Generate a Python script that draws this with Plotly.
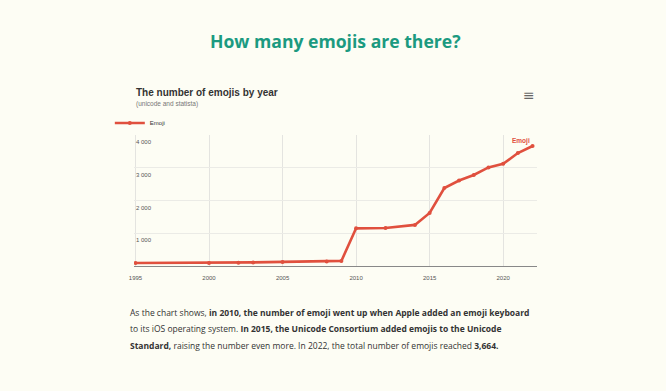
import plotly.graph_objects as go

years = [1995, 2000, 2002, 2003, 2005, 2008, 2009, 2010, 2012, 2014, 2015, 2016, 2017, 2018, 2019, 2020, 2021, 2022]
emojis = [90, 90, 100, 110, 125, 135, 155, 1150, 1160, 1255, 1620, 2380, 2610, 2780, 3010, 3120, 3450, 3664]
x_ticks = [1995, 2000, 2005, 2010, 2015, 2020]
y_ticks = [1000, 2000, 3000, 4000]
y_tick_text = ["1 000", "2 000", "3 000", "4 000"]

RED = "#e0503e"
BG = "#fdfdf4"
L, R, T, B = 134, 129, 135, 125
W, H = 666, 391
fig = go.Figure()
fig.add_trace(go.Scatter(
    x=years, y=emojis, mode="lines+markers", name="Emoji",
    line=dict(color=RED, width=2.6), marker=dict(color=RED, size=4),
))


def px(x):
    return (x - L) / (W - L - R)


def py(y):
    return (H - B - y) / (H - T - B)


fig.update_layout(
    width=W, height=H,
    paper_bgcolor=BG, plot_bgcolor=BG,
    margin=dict(l=L, r=R, t=T, b=B),
    font=dict(family="Liberation Sans, Arial, sans-serif", color="#444"),
    showlegend=True,
    legend=dict(x=-0.06, y=py(123), xanchor="left", yanchor="middle", yref="paper",
                orientation="h", font=dict(size=6, color="#333"), itemwidth=30,
                bgcolor="rgba(0,0,0,0)", borderwidth=0, tracegroupgap=0),
    xaxis=dict(range=[1994.9, 2022.3], tickvals=x_ticks, showgrid=True, gridcolor="#e4e4e0",
               gridwidth=1, zeroline=False, showline=True, linecolor="#888", linewidth=1,
               tickfont=dict(size=6, color="#555"), ticks="", fixedrange=True,
               ticklabeloverflow="allow", ticklabelstandoff=6),
    yaxis=dict(range=[0, 4000], tickvals=y_ticks, showgrid=True,
               gridcolor="#ebebe6", zeroline=False, showline=False,
               showticklabels=False, ticks="", fixedrange=True),
)

annotations = [
    dict(text="<b>How many emojis are there?</b>", x=0.5, y=py(41),
         font=dict(family="Open Sans, sans-serif", size=17.6, color="#1b9a80")),
    dict(text="<b>The number of emojis by year</b>", x=px(134), y=py(92), xanchor="left",
         font=dict(family="Liberation Sans, Arial", size=10, color="#333")),
    dict(text="(unicode and statista)", x=px(134), y=py(104), xanchor="left",
         font=dict(family="Liberation Sans, Arial", size=6.5, color="#777")),
    dict(text="≡", x=px(529), y=py(95), font=dict(family="DejaVu Sans", size=14, color="#666")),
]
para = [
    "As the chart shows, <b>in 2010, the number of emoji went up when Apple added an emoji keyboard</b>",
    "to its iOS operating system. <b>In 2015, the Unicode Consortium added emojis to the Unicode</b>",
    "<b>Standard,</b> raising the number even more. In 2022, the total number of emojis reached <b>3,664.</b>",
]
for i, line in enumerate(para):
    annotations.append(dict(text=line, x=px(128), y=py(312 + i * 16.5), xanchor="left",
                            font=dict(family="Open Sans, sans-serif", size=8.5, color="#333")))

anns = []
for a in annotations:
    a = dict(a)
    a["xref"] = "paper"
    a["yref"] = "paper"
    a.setdefault("xanchor", "center")
    a["yanchor"] = "middle"
    a["showarrow"] = False
    anns.append(a)

# y-axis labels, placed inside the plot just under each gridline
for v, t in zip(y_ticks, y_tick_text):
    anns.append(dict(text=t, x=0, xref="paper", y=v, yref="y", xanchor="left", yanchor="top",
                     xshift=0, yshift=-2, showarrow=False,
                     font=dict(family="Liberation Sans, Arial", size=6, color="#555")))

anns.append(dict(text="<b>Emoji</b>", x=years[-1], y=emojis[-1], xref="x", yref="y",
                 xanchor="right", yanchor="middle", xshift=-1, yshift=5, showarrow=False,
                 font=dict(family="Liberation Sans, Arial", size=6.5, color=RED)))
fig.update_layout(annotations=anns)
fig.write_html("out.html", config={"displayModeBar": False},
               post_script="document.body.style.margin='0';document.body.style.background='%s';" % BG)
